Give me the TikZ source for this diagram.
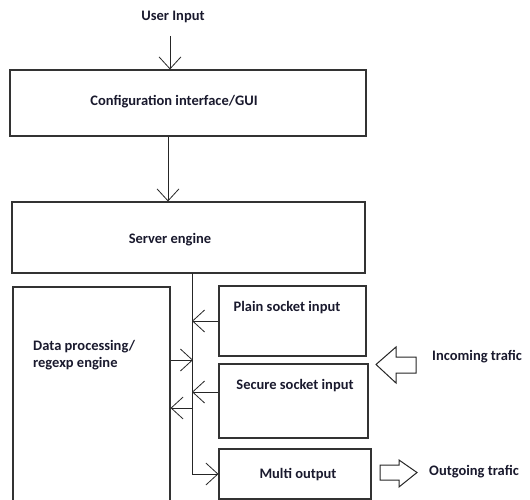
\documentclass[tikz,border=0pt]{standalone}
\usepackage{fontspec}
\setmainfont{Carlito}
\usetikzlibrary{arrows.meta}
\definecolor{ink}{RGB}{25,25,45}
\begin{document}
\begin{tikzpicture}[x=1pt,y=-1pt,
  box/.style={draw=black!80,line width=1.1pt,inner sep=0pt},
  lbl/.style={font=\bfseries\fontsize{14.5}{16.5}\selectfont,text=ink,inner sep=0pt},
  wire/.style={draw=black!85,line width=1pt,-{Straight Barb[length=12pt,width=22pt,line width=0.8pt]}},
  fat/.style={draw=black!85,line width=1pt,fill=white}]
\useasboundingbox (0,0) rectangle (530,500);
% boxes
\node[box,minimum width=356pt,minimum height=66pt] (config) at (188,103) {};
\node[box,minimum width=353pt,minimum height=71pt] (server) at (188.5,237.5) {};
\node[box,minimum width=157pt,minimum height=228pt] (data) at (91.5,401) {};
\node[box,minimum width=147pt,minimum height=70pt] (plain) at (292.5,321) {};
\node[box,minimum width=149pt,minimum height=74pt] (secure) at (293.5,401) {};
\node[box,minimum width=152pt,minimum height=50pt] (multi) at (295,474) {};
% labels
\node[lbl] (user) at (173,17) {User Input};
\node[lbl] (configtxt) at (174,102) {Configuration interface/GUI};
\node[lbl] (servertxt) at (170,240) {Server engine};
\node[lbl,align=left,anchor=west] (datatxt) at (33,355) {Data processing/\\regexp engine};
\node[lbl] (plaintxt) at (287,308) {Plain socket input};
\node[lbl] (securetxt) at (295,386) {Secure socket input};
\node[lbl] (multitxt) at (298,475) {Multi output};
\node[lbl,anchor=west] (intxt) at (432,357) {Incoming trafic};
\node[lbl,anchor=west] (outtxt) at (429,472) {Outgoing trafic};
% wires
\coordinate (top) at (192,273);
\coordinate (bot) at (192,474);
\coordinate (d1) at ([yshift=41pt]data.east);
\coordinate (d2) at ([yshift=-7pt]data.east);
\coordinate (s1) at ([yshift=9pt]secure.west);
\draw[wire] (170,36) -- (config.north -| 170,0);
\draw[wire] (config.south -| 168,0) -- (server.north -| 168,0);
\draw[wire] (top) -- (bot) -- (multi.west |- bot);
\draw[wire] (plain.west) -- (plain.west -| top);
\draw[wire] (s1) -- (s1 -| top);
\draw[wire] (d1) -- ([xshift=1pt]d1 -| top);
\draw[wire] ([xshift=1pt]d2 -| top) -- (d2);
% block arrows
\draw[fat] (416,357) -- (396,357) -- (396,347) -- (376,364.5) -- (396,383) -- (396,373) -- (416,373) -- cycle;
\draw[fat] (380,465) -- (399,465) -- (399,460) -- (417,472.5) -- (399,487) -- (399,480) -- (380,480) -- cycle;
\end{tikzpicture}
\end{document}
